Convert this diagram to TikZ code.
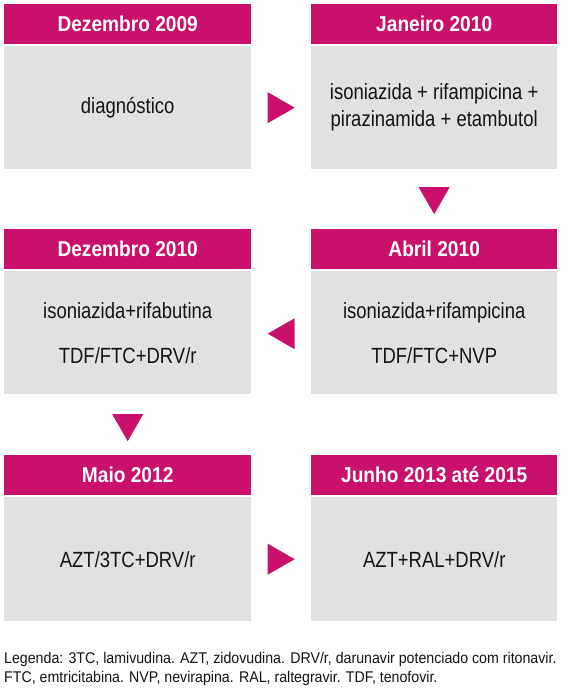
\documentclass[tikz,border=0pt]{standalone}
\usepackage{fontspec}
\setmainfont{Liberation Sans}
\newfontfamily\condfont{Liberation Sans}[FakeStretch=0.84]
\newfontfamily\hdrfont{Liberation Sans}[FakeStretch=0.89]
\newfontfamily\legfont{Liberation Sans}[FakeStretch=0.915]
\usetikzlibrary{calc}
\definecolor{mag}{RGB}{201,16,106}
\definecolor{lgray}{RGB}{225,225,225}
\definecolor{txt}{RGB}{20,20,20}
\begin{document}
\begin{tikzpicture}[x=1pt,y=-1pt,
  hdr/.style={fill=mag, text=white, minimum width=247pt, minimum height=40pt,
    inner sep=0pt, anchor=north west, font=\hdrfont\bfseries\fontsize{21.5}{25}\selectfont},
  bodybox/.style={fill=lgray, text=txt, minimum width=247pt, minimum height=123pt,
    inner sep=0pt, anchor=north west, align=center, font=\condfont\fontsize{22}{27}\selectfont},
  tri/.style={fill=mag}]
\path[use as bounding box, fill=white] (0,0) rectangle (567,690);
% row 1
\node[hdr] (h1) at (4,4) {Dezembro 2009};
\node[bodybox] (b1) at (4,46) {diagnóstico};
\node[hdr, minimum width=246pt] (h2) at (311,4) {Janeiro 2010};
\node[bodybox, minimum width=246pt] (b2) at (311,46) {isoniazida + rifampicina +\\pirazinamida + etambutol};
% row 2
\node[hdr, minimum width=246pt] (h3) at (311,229) {Abril 2010};
\node[bodybox, minimum width=246pt] (b3) at (311,271) {isoniazida+rifampicina\\[18pt]TDF/FTC+NVP};
\node[hdr] (h4) at (4,229) {Dezembro 2010};
\node[bodybox] (b4) at (4,271) {isoniazida+rifabutina\\[18pt]TDF/FTC+DRV/r};
% row 3
\node[hdr] (h5) at (4,455) {Maio 2012};
\node[bodybox, minimum height=124pt] (b5) at (4,497) {AZT/3TC+DRV/r};
\node[hdr, minimum width=246pt] (h6) at (311,455) {Junho 2013 até 2015};
\node[bodybox, minimum width=246pt, minimum height=124pt] (b6) at (311,497) {AZT+RAL+DRV/r};
% arrows
\coordinate (m1) at ($(b1.east)!0.5!(b2.west)$);
\fill[tri] ($(m1)+(13.5,0)$) -- ($(m1)+(-13.5,-15.5)$) -- ($(m1)+(-13.5,15.5)$) -- cycle;
\coordinate (m2) at ($(b2.south)!0.5!(h3.north)+(0,1.5)$);
\fill[tri] ($(m2)+(0,13.5)$) -- ($(m2)+(-15.5,-13.5)$) -- ($(m2)+(15.5,-13.5)$) -- cycle;
\coordinate (m3) at ($(b4.east)!0.5!(b3.west)+(0,1)$);
\fill[tri] ($(m3)+(-13.5,0)$) -- ($(m3)+(13.5,-15.5)$) -- ($(m3)+(13.5,15.5)$) -- cycle;
\coordinate (m4) at ($(b4.south)!0.5!(h5.north)+(0,3)$);
\fill[tri] ($(m4)+(0,13.5)$) -- ($(m4)+(-15.5,-13.5)$) -- ($(m4)+(15.5,-13.5)$) -- cycle;
\coordinate (m5) at ($(b5.east)!0.5!(b6.west)$);
\fill[tri] ($(m5)+(13.5,0)$) -- ($(m5)+(-13.5,-15.5)$) -- ($(m5)+(-13.5,15.5)$) -- cycle;
% legend
\node[anchor=north west, inner sep=0pt, align=left, text=txt,
  font=\legfont\fontsize{15.5}{19}\selectfont] (leg) at (4,652)
  {Legenda: 3TC, lamivudina. AZT, zidovudina. DRV/r, darunavir potenciado com ritonavir.\\
   FTC, emtricitabina. NVP, nevirapina. RAL, raltegravir. TDF, tenofovir.};
\end{tikzpicture}
\end{document}
